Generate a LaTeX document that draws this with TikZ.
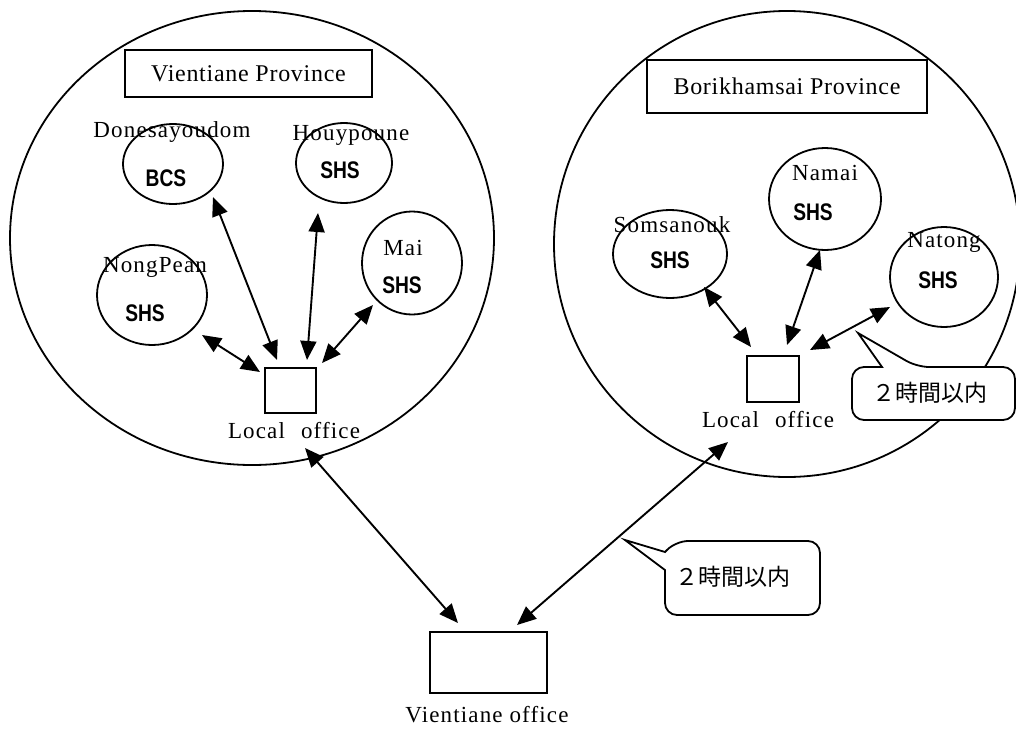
\documentclass[tikz,border=0pt]{standalone}
\usepackage{fontspec}
\usepackage{graphicx}
\setmainfont{Liberation Serif}
\setsansfont{Liberation Sans}
\newfontfamily\lblfont{Liberation Serif}[LetterSpace=5]
\newfontfamily\provfont{Liberation Serif}[LetterSpace=3]
\newfontfamily\jpfont{Noto Sans CJK JP}
\usetikzlibrary{shapes.geometric,arrows.meta,calc}
\newcommand{\typtext}[1]{\scalebox{0.8}[1]{\sffamily\bfseries #1}}
\begin{document}
\begin{tikzpicture}[x=1pt,y=-1pt,
  bigc/.style={draw,ellipse,line width=1.8pt,inner sep=0pt},
  smallc/.style={draw,ellipse,line width=1.8pt,inner sep=0pt},
  office/.style={draw,rectangle,line width=2pt,inner sep=0pt},
  provbox/.style={draw,rectangle,line width=2pt,inner sep=0pt,font=\provfont\fontsize{24}{26}\selectfont},
  lbl/.style={inner sep=0pt,font=\lblfont\fontsize{23}{25}\selectfont},
  typ/.style={inner sep=0pt,font=\fontsize{24}{26}\selectfont},
  jp/.style={inner sep=0pt,font=\jpfont\fontsize{23}{25}\selectfont},
  arr/.style={{Triangle[length=19pt,width=16pt]}-{Triangle[length=19pt,width=16pt]},line width=1.9pt},
  callout/.style={draw,fill=white,line width=1.8pt}]
\useasboundingbox (0,0) rectangle (1016,728);
\clip (0,0) rectangle (1016,728);
\fill[white] (0,0) rectangle (1016,728);

% big province circles
\node[bigc,minimum width=484pt,minimum height=454pt] (lc) at (252,238) {};
\node[bigc,minimum width=466pt,minimum height=466pt] (rc) at (787,244) {};

% province boxes
\node[provbox,minimum width=247pt,minimum height=47pt] (vp) at (248.5,73.5) {Vientiane Province};
\node[provbox,minimum width=280pt,minimum height=53pt] (bp) at (787,86.5) {Borikhamsai Province};

% small circles, left
\node[smallc,minimum width=100pt,minimum height=80pt] (don) at (173,164) {};
\node[smallc,minimum width=96pt,minimum height=80pt] (hou) at (344,163) {};
\node[smallc,minimum width=110pt,minimum height=100pt] (nong) at (152,295) {};
\node[smallc,minimum width=100pt,minimum height=103pt] (mai) at (412,263) {};
% small circles, right
\node[smallc,minimum width=112pt,minimum height=102pt] (nam) at (825,199) {};
\node[smallc,minimum width=114pt,minimum height=88pt] (som) at (670,254) {};
\node[smallc,minimum width=108pt,minimum height=100pt] (nat) at (944,277) {};

% names
\node[lbl] (donname) at (172,132) {Donesayoudom};
\node[lbl] (houname) at (351,135) {Houypoune};
\node[lbl] (nongname) at (155,267) {NongPean};
\node[lbl] (mainame) at (403,248) {Mai};
\node[lbl] (namname) at (825,173) {Namai};
\node[lbl] (somname) at (672,225) {Somsanouk};
\node[lbl] (natname) at (944,242) {Natong};

% types
\node[typ] (dontyp) at (166,178) {\typtext{BCS}};
\node[typ] (houtyp) at (340,170) {\typtext{SHS}};
\node[typ] (nongtyp) at (145,313) {\typtext{SHS}};
\node[typ] (maityp) at (402,285) {\typtext{SHS}};
\node[typ] (namtyp) at (813,212) {\typtext{SHS}};
\node[typ] (somtyp) at (670,260) {\typtext{SHS}};
\node[typ] (nattyp) at (938,280) {\typtext{SHS}};

% offices
\node[office,minimum width=51pt,minimum height=45pt] (lo1) at (290.5,390.5) {};
\node[office,minimum width=52pt,minimum height=46pt] (lo2) at (773,379) {};
\node[office,minimum width=117pt,minimum height=61pt] (vo) at (488.5,662.5) {};
\node[lbl] (lo1lbl) at (294,431) {Local\hspace{16pt}office};
\node[lbl] (lo2lbl) at (768,420) {Local\hspace{16pt}office};
\node[lbl] (volbl) at (487,715) {Vientiane office};

% arrows left
\draw[arr] ($(don)+(40,33)$) -- ($(lo1)+(-13.5,-30.5)$);
\draw[arr] ($(hou)+(-26,50)$) -- ($(lo1)+(16.5,-30.5)$);
\draw[arr] ($(nong)+(50,40)$) -- ($(lo1)+(-30.5,-18.5)$);
\draw[arr] ($(mai)+(-39,42)$) -- ($(lo1)+(31.5,-27.5)$);
% arrows right
\draw[arr] ($(som)+(34,33)$) -- ($(lo2)+(-22,-32)$);
\draw[arr] ($(nam)+(-5,51)$) -- ($(lo2)+(14,-34)$);
\draw[arr] ($(nat)+(-54,30)$) -- ($(lo2)+(37,-29)$);
% long arrows
\draw[arr] ($(lo1)+(14.5,57.5)$) -- ($(vo)+(-30.5,-39.5)$);
\draw[arr] ($(lo2)+(-45,63)$) -- ($(vo)+(28.5,-37.5)$);

% callouts
\coordinate (tip1) at (858,333);
\coordinate (tip2) at (625,540);
\draw[callout] (882,367) [rounded corners=12pt] -- (852,367) -- (852,420) -- (1015,420) -- (1015,367) -- (917,367) [sharp corners] -- (tip1) -- cycle;
\node[jp] (c1txt) at (930,393) {２時間以内};
\draw[callout] (665,570) [rounded corners=12pt] -- (665,615) -- (820,615) -- (820,541) -- (676,541) [sharp corners] -- (665,552) -- (tip2) -- cycle;
\node[jp] (c2txt) at (733,577) {２時間以内};
\end{tikzpicture}
\end{document}
